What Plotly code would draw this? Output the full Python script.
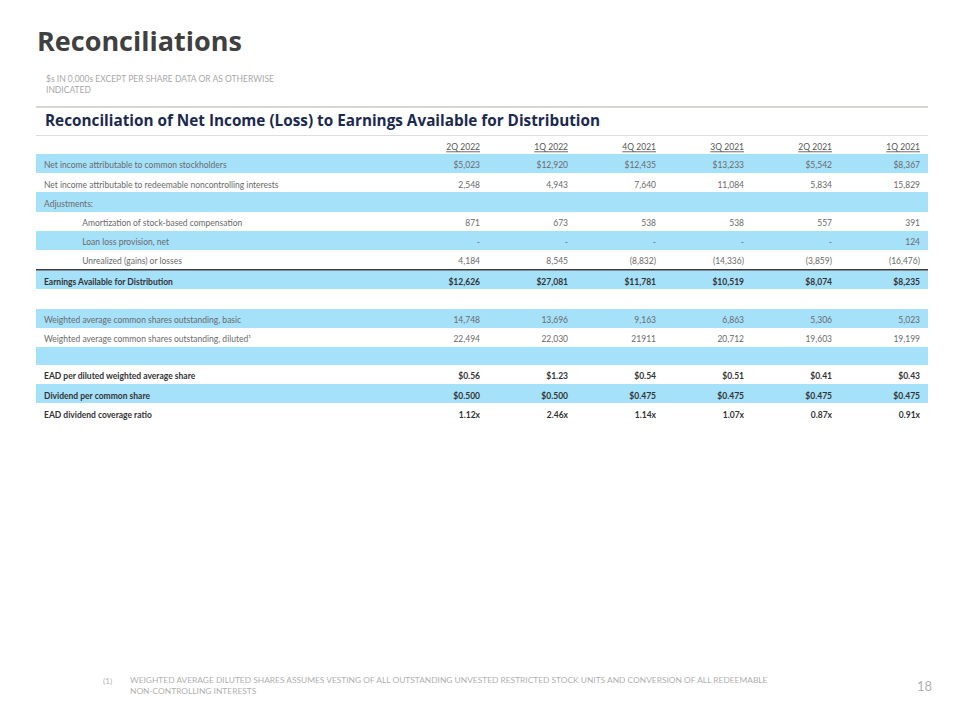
import plotly.graph_objects as go

# ---------------- data ----------------
periods = ["2Q 2022", "1Q 2022", "4Q 2021", "3Q 2021", "2Q 2021", "1Q 2021"]

labels_top = [
    "Net income attributable to common stockholders",
    "Net income attributable to redeemable noncontrolling interests",
    "Adjustments:",
    "Amortization of stock-based compensation",
    "Loan loss provision, net",
    "Unrealized (gains) or losses",
]
indent_top = [False, False, False, True, True, True]

net_income_common = ["$5,023", "$12,920", "$12,435", "$13,233", "$5,542", "$8,367"]
net_income_nci = ["2,548", "4,943", "7,640", "11,084", "5,834", "15,829"]
adjustments = ["", "", "", "", "", ""]
amortization = ["871", "673", "538", "538", "557", "391"]
loan_loss = ["-", "-", "-", "-", "-", "124"]
unrealized = ["4,184", "8,545", "(8,832)", "(14,336)", "(3,859)", "(16,476)"]

label_ead = "Earnings Available for Distribution"
ead = ["$12,626", "$27,081", "$11,781", "$10,519", "$8,074", "$8,235"]

labels_shares = [
    "",
    "Weighted average common shares outstanding, basic",
    "Weighted average common shares outstanding, diluted\u00b9",
    "",
]
blank = ["", "", "", "", "", ""]
wa_basic = ["14,748", "13,696", "9,163", "6,863", "5,306", "5,023"]
wa_diluted = ["22,494", "22,030", "21911", "20,712", "19,603", "19,199"]

label_ead_per_share = "EAD per diluted weighted average share"
ead_per_share = ["$0.56", "$1.23", "$0.54", "$0.51", "$0.41", "$0.43"]
labels_dividend = ["Dividend per common share", "EAD dividend coverage ratio"]
dividend = ["$0.500", "$0.500", "$0.475", "$0.475", "$0.475", "$0.475"]
coverage = ["1.12x", "2.46x", "1.14x", "1.07x", "0.87x", "0.91x"]

rows_top = [net_income_common, net_income_nci, adjustments, amortization, loan_loss, unrealized]
rows_shares = [blank, wa_basic, wa_diluted, blank]
rows_dividend = [dividend, coverage]

# ---------------- style ----------------
W, H = 960, 720
OFF = 8  # page body margin of the written html
BLUE = "#a6e1fa"
WHITE = "#ffffff"
TXT = "#6a6a6a"
BOLD_TXT = "#333333"
FONT = "Lato"
FS = 8.5
ROW_H = 19.2


def px(x):
    return (x - OFF) / W


def py(y):
    return 1 - (y - OFF) / H


def build_columns(labels, rows, indent=None):
    if indent is None:
        indent = [False] * len(labels)
    first = [("\u2003" * 6 + lab) if ind else lab for lab, ind in zip(labels, indent)]
    cols = [first]
    for j in range(len(periods)):
        cols.append([r[j] for r in rows])
    return cols


def fills(n, first_blue=True):
    return [BLUE if (i % 2 == 0) == first_blue else WHITE for i in range(n)]


colwidths = [364, 88, 88, 88, 88, 88, 88]
x_dom = [px(36), px(928)]
aligns = ["left"] + ["right"] * 6


def add_segment(fig, top, bottom, head_vals, head_fill, head_font, cell_cols, cell_fill, cell_font,
                head_h=ROW_H):
    fig.add_trace(go.Table(
        domain=dict(x=x_dom, y=[py(bottom), py(top)]),
        columnwidth=colwidths,
        header=dict(
            values=head_vals, height=head_h, fill_color=head_fill,
            line=dict(color=head_fill, width=0), align=aligns, font=head_font,
        ),
        cells=dict(
            values=cell_cols, height=ROW_H, fill_color=[cell_fill] * 7,
            line=dict(color=[cell_fill] * 7, width=0), align=aligns, font=cell_font,
        ),
    ))


fig = go.Figure()

normal_font = dict(family=FONT, size=FS, color=TXT)
bold_font = dict(family=FONT, size=FS, color=BOLD_TXT, weight="bold")

# segment 1: period header + income and adjustments
add_segment(fig, 136, 300,
            [""] + periods, WHITE,
            dict(family=FONT, size=FS, color="#555555", lineposition="under"),
            build_columns(labels_top, rows_top, indent_top), fills(len(labels_top)), normal_font,
            head_h=18)

# segment 2: EAD total + share counts
add_segment(fig, 270.3, 400,
            [label_ead] + ead, BLUE, bold_font,
            build_columns(labels_shares, rows_shares), fills(len(labels_shares), first_blue=False),
            normal_font)

# segment 3: per-share figures
add_segment(fig, 365, 450,
            [label_ead_per_share] + ead_per_share, WHITE, bold_font,
            build_columns(labels_dividend, rows_dividend), fills(len(labels_dividend)),
            bold_font)

shapes = [
    dict(type="line", xref="paper", yref="paper", x0=px(36), x1=px(928), y0=py(107), y1=py(107),
         line=dict(color="#cdc8c2", width=1.5)),
    dict(type="line", xref="paper", yref="paper", x0=px(36), x1=px(928), y0=py(135.5), y1=py(135.5),
         line=dict(color="#dcdcdc", width=1)),
    dict(type="line", xref="paper", yref="paper", x0=px(36), x1=px(928), y0=py(269.7), y1=py(269.7),
         line=dict(color="#3a3a3a", width=1.5)),
]

annotations = [
    dict(text="<b>Reconciliations</b>", x=px(35), y=py(41), xanchor="left", yanchor="middle",
         font=dict(family="Open Sans", size=27, color="#404040")),
    dict(text="$s IN 0,000s EXCEPT PER SHARE DATA OR AS OTHERWISE<br>INDICATED", x=px(44), y=py(85),
         xanchor="left", yanchor="middle", align="left",
         font=dict(family=FONT, size=8.5, color="#a8a8a8")),
    dict(text="<b>Reconciliation of Net Income (Loss) to Earnings Available for Distribution</b>",
         x=px(43), y=py(120), xanchor="left", yanchor="middle",
         font=dict(family="Open Sans", size=15.3, color="#1b2a4e")),
    dict(text="(1)", x=px(101), y=py(680.5), xanchor="left", yanchor="middle",
         font=dict(family=FONT, size=8.2, color="#b0b0b0")),
    dict(text="WEIGHTED AVERAGE DILUTED SHARES ASSUMES VESTING OF ALL OUTSTANDING UNVESTED RESTRICTED STOCK UNITS AND CONVERSION OF ALL REDEEMABLE<br>NON-CONTROLLING INTERESTS",
         x=px(128), y=py(685), xanchor="left", yanchor="middle", align="left",
         font=dict(family=FONT, size=8.4, color="#b0b0b0")),
    dict(text="18", x=px(934), y=py(686), xanchor="right", yanchor="middle",
         font=dict(family=FONT, size=13, color="#b0b0b0")),
]
for a in annotations:
    a.update(xref="paper", yref="paper", showarrow=False)

fig.update_layout(
    width=W, height=H,
    margin=dict(l=0, r=0, t=0, b=0),
    paper_bgcolor="white", plot_bgcolor="white",
    shapes=shapes, annotations=annotations,
    showlegend=False,
)

fig.write_html("out.html")
